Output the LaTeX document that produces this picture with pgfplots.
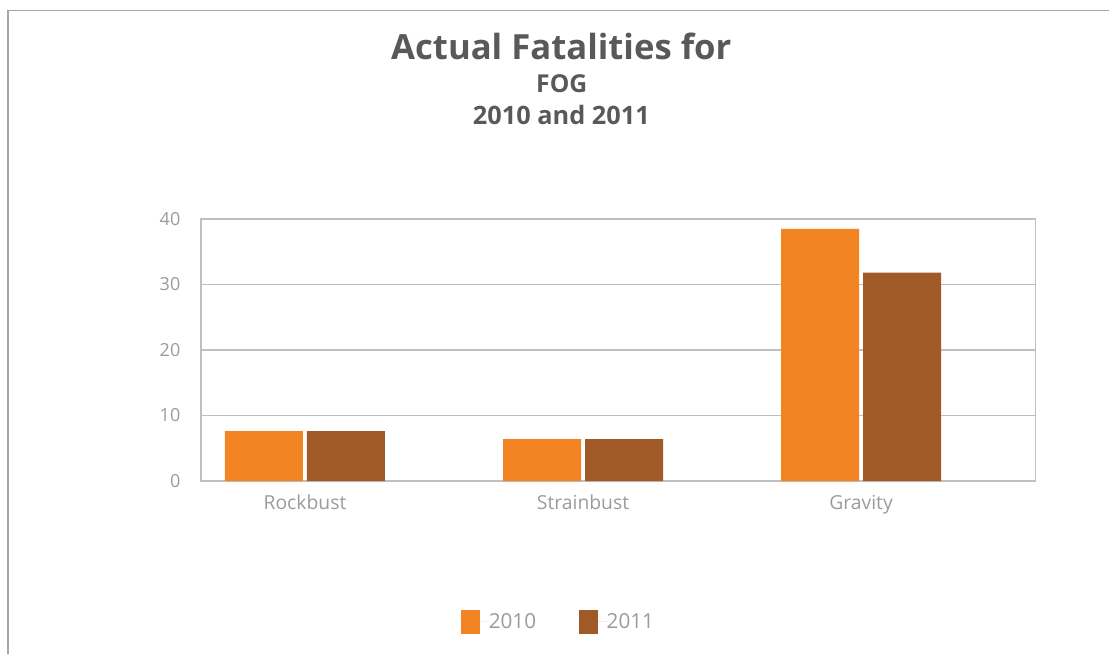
\documentclass[border=0pt]{standalone}
\usepackage{pgfplots}
\pgfplotsset{compat=1.18}
\usepackage{fontspec}
\setmainfont{Open Sans}
\definecolor{orange2010}{HTML}{F28423}
\definecolor{brown2011}{HTML}{A05A27}
\definecolor{gridgrey}{HTML}{BFBFBF}
\definecolor{ticktext}{HTML}{9B9B9B}
\definecolor{titletext}{HTML}{595959}
\definecolor{framegrey}{HTML}{A6A6A6}
\begin{document}
\begin{tikzpicture}
\useasboundingbox (0pt,0pt) rectangle (831.75pt,489.75pt);
% outer frame (partially cut off in the reference)
\draw[framegrey, line width=1.1pt] (6pt,-2pt) -- (6pt,482pt) -- (833pt,482pt);
% titles
\node[anchor=base, text=titletext, font=\fontsize{26}{30}\selectfont\bfseries] at (421pt,445pt) {Actual Fatalities for};
\node[anchor=base, text=titletext, font=\fontsize{18.5}{22}\selectfont\bfseries] at (421.3pt,420.5pt) {FOG};
\node[anchor=base, text=titletext, font=\fontsize{19}{22}\selectfont\bfseries] at (421pt,396.5pt) {2010 and 2011};
\begin{axis}[
  at={(150.75pt,129pt)}, anchor=south west,
  scale only axis,
  width=626pt, height=196.5pt,
  xmin=-0.374, xmax=2.628,
  ymin=0, ymax=40,
  ytick={0,10,20,30,40},
  xtick={0,1,2},
  xticklabels={Rockbust,Strainbust,Gravity},
  ybar=3pt, bar width=58.5pt,
  major tick length=0pt,
  ymajorgrids, grid style={gridgrey, line width=0.8pt},
  axis line style={gridgrey, line width=0.8pt},
  /pgf/number format/assume math mode=true,
  yticklabel style={font=\fontsize{13.5}{16}\selectfont, text=ticktext, xshift=-12pt},
  xticklabel style={font=\fontsize{14.5}{17}\selectfont, text=ticktext, yshift=-7pt},
  legend style={at={(0.427,-0.538)}, anchor=center, draw=none, fill=none,
    font=\fontsize{15.5}{18}\selectfont, text=ticktext,
    nodes={inner sep=0pt},
    legend columns=2, /tikz/every even column/.append style={column sep=32pt}},
  legend image code/.code={\fill[#1] (0pt,-9pt) rectangle (14.25pt,9pt); \path (0pt,0pt) -- (21pt,0pt);},
]
\addplot[fill=orange2010, draw=none] coordinates {(0,7.6) (1,6.4) (2,38.5)};
\addplot[fill=brown2011, draw=none] coordinates {(0,7.6) (1,6.4) (2,31.8)};
\legend{2010,2011}
\end{axis}
\end{tikzpicture}
\end{document}
